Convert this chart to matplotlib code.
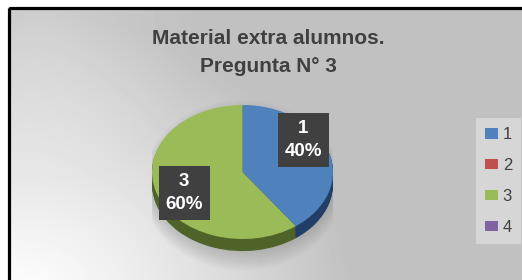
import numpy as np
import matplotlib
matplotlib.use("Agg")
import matplotlib.pyplot as plt
from matplotlib.patches import Rectangle, Ellipse

# ---- data ----
title_lines = ["Material extra alumnos.", "Pregunta N° 3"]
categories = ["1", "2", "3", "4"]
values = [40, 0, 60, 0]
colors = ["#4f81bd", "#c0504d", "#9bbb59", "#8064a2"]
side_colors = ["#213f66", "#772c2a", "#4f6228", "#4d3b62"]

W, H = 522, 280
fig = plt.figure(figsize=(W / 100, H / 100), dpi=100)
fig.patch.set_facecolor("white")

# ---- background (gradient panel with black frame) ----
bg = fig.add_axes([0, 0, 1, 1])
bg.set_axis_off()
yy, xx = np.mgrid[0:H, 0:W]
d = np.hypot((xx - 20) * 0.9, yy - 310)
t = np.clip(d / 300.0, 0, 1) ** 1.2
img = 1.0 * (1 - t) + 0.755 * t
d2 = np.hypot(xx - 40, yy - 20)
img = img + 0.05 * np.clip(1 - d2 / 160.0, 0, 1)
img = np.clip(img, 0, 1)
img[:, :8] = 1.0
img[:7, :] = 1.0
bg.imshow(img, cmap="gray", vmin=0, vmax=1, extent=[0, W, H, 0], aspect="auto",
          interpolation="bilinear")
bg.add_patch(Rectangle((8.5, 7.5), W + 10, H + 10, fill=False, ec="black", lw=2.3))
bg.set_xlim(0, W)
bg.set_ylim(H, 0)

# ---- pie (pseudo-3D) ----
cx, cy, rx, ry = 242.5, 172, 90.5, 67
top_px, bot_px = 95, 275
ax = fig.add_axes([(cx - rx) / W, (H - bot_px) / H, 2 * rx / W, (bot_px - top_px) / H])
ax.set_axis_off()

thick = 0.18
for i in range(10):
    ax.add_patch(Ellipse((0.0, -thick - 0.02), 2 * (1.0 + 0.012 * i), 2 * (1.0 + 0.03 * i),
                         fc="#707070", ec="none", alpha=0.035, zorder=0))

for off in np.linspace(-thick, -0.01, 16):
    ax.pie(values, colors=side_colors, startangle=90, counterclock=False,
           center=(0, off), radius=1, wedgeprops=dict(linewidth=0))
wedges, _ = ax.pie(values, colors=colors, startangle=90, counterclock=False,
                   center=(0, 0), radius=1, wedgeprops=dict(linewidth=0))

ax.set_aspect("auto")
ax.set_xlim(-1, 1)
ax.set_ylim((cy - bot_px) / ry, (cy - top_px) / ry)

total = sum(values)
label_pos = {0: (0.67, 0.48), 2: (-0.645, -0.31)}
for i, (px, py) in label_pos.items():
    ax.text(px, py, f"{categories[i]}\n{values[i] / total * 100:.0f}%",
            ha="center", va="center", color="white", fontsize=13.5, fontweight="bold",
            family="Liberation Sans", linespacing=1.5, zorder=10,
            bbox=dict(boxstyle="square,pad=0.36", fc="#404040", ec="none"))

# ---- title ----
fig.text(268 / W, 1 - 52 / H, "\n".join(title_lines), ha="center", va="center",
         fontsize=15, fontweight="bold", color="#404040", family="Liberation Sans",
         linespacing=1.6)

# ---- legend ----
leg = ax.legend(wedges, categories, loc="upper left",
                bbox_to_anchor=(476 / W, 1 - 118 / H), bbox_transform=fig.transFigure,
                frameon=True, fancybox=False, facecolor="#d6d6d6", edgecolor="none",
                framealpha=1, prop=dict(family="Liberation Sans", size=12),
                labelcolor="#404040", labelspacing=0.95, handlelength=0.75,
                handleheight=0.6, handletextpad=0.3, borderpad=0.55, borderaxespad=0)

fig.savefig("out.png", dpi=100, facecolor="white")
